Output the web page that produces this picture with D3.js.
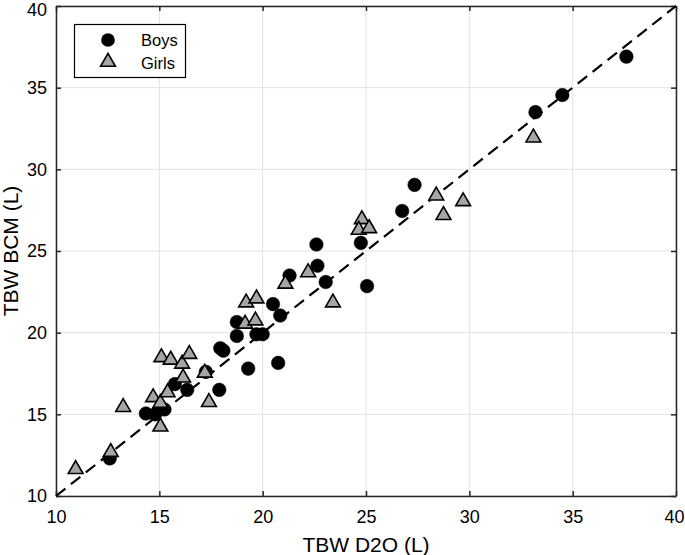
<!DOCTYPE html>
<html>
<head>
<meta charset="utf-8">
<script src="https://cdn.jsdelivr.net/npm/d3@7"></script>
<style>
  body { margin: 0; background: #fff; }
  svg { display: block; font-family: "Liberation Sans", Arial, Helvetica, sans-serif; }
</style>
</head>
<body>
<svg id="chart" width="685" height="555"></svg>
<script>
const xTicks = [10, 15, 20, 25, 30, 35, 40];
const yTicks = [10, 15, 20, 25, 30, 35, 40];
const xLabel = "TBW D2O (L)";
const yLabel = "TBW BCM (L)";
const seriesNames = ["Boys", "Girls"];

const boysX = [37.6, 34.5, 33.2, 27.35, 26.75, 22.6, 24.75, 22.65, 21.3, 23.05, 25.05, 20.5, 20.85, 18.75, 18.75, 19.7, 20.0, 17.95, 18.1, 19.3, 20.75, 17.25, 17.9, 15.75, 16.35, 14.35, 14.8, 15.25, 12.6];
const boysY = [36.9, 34.55, 33.5, 29.05, 27.45, 25.4, 25.5, 24.1, 23.5, 23.1, 22.85, 21.75, 21.05, 20.65, 19.8, 19.9, 19.9, 19.05, 18.9, 17.8, 18.15, 17.6, 16.5, 16.85, 16.5, 15.05, 15.0, 15.3, 12.3];

const girlsX = [33.1, 28.4, 29.7, 28.75, 24.8, 24.65, 25.15, 22.2, 21.1, 23.4, 19.2, 19.7, 19.15, 19.65, 15.1, 15.55, 16.1, 16.45, 16.15, 17.2, 14.7, 15.05, 15.4, 17.4, 13.25, 15.05, 12.65, 10.95];
const girlsY = [32.0, 28.45, 28.1, 27.25, 27.0, 26.35, 26.45, 23.75, 23.05, 21.9, 21.9, 22.15, 20.6, 20.8, 18.55, 18.4, 18.15, 18.75, 17.3, 17.6, 16.1, 15.75, 16.4, 15.8, 15.5, 14.3, 12.75, 11.7];

const identityLine = [[10, 10], [40, 40]];

const svg = d3.select("#chart");
const L = 56, R = 676, T = 6, B = 496;
const x = d3.scaleLinear().domain([10, 40]).range([L, R]);
const y = d3.scaleLinear().domain([10, 40]).range([B, T]);

// grid
const g = svg.append("g");
g.selectAll("line.gx").data(xTicks).join("line")
  .attr("x1", d => x(d)).attr("x2", d => x(d)).attr("y1", T).attr("y2", B)
  .attr("stroke", "#e3e3e3").attr("stroke-width", 1);
g.selectAll("line.gy").data(yTicks).join("line")
  .attr("y1", d => y(d)).attr("y2", d => y(d)).attr("x1", L).attr("x2", R)
  .attr("stroke", "#e3e3e3").attr("stroke-width", 1);

// axes
const axisColor = "#262626";
const xAxis = svg.append("g").attr("transform", `translate(0,${B})`)
  .call(d3.axisBottom(x).tickValues(xTicks).tickSizeInner(-5).tickSizeOuter(0).tickPadding(14).tickFormat(d3.format("d")));
const xAxisTop = svg.append("g").attr("transform", `translate(0,${T})`)
  .call(d3.axisTop(x).tickValues(xTicks).tickSizeInner(-5).tickSizeOuter(0).tickFormat(""));
const yAxis = svg.append("g").attr("transform", `translate(${L},0)`)
  .call(d3.axisLeft(y).tickValues(yTicks).tickSizeInner(-5).tickSizeOuter(0).tickPadding(9).tickFormat(d3.format("d")));
const yAxisR = svg.append("g").attr("transform", `translate(${R},0)`)
  .call(d3.axisRight(y).tickValues(yTicks).tickSizeInner(-5).tickSizeOuter(0).tickFormat(""));
[xAxis, xAxisTop, yAxis, yAxisR].forEach(a => {
  a.select(".domain").attr("stroke", axisColor).attr("stroke-width", 1.5);
  a.selectAll(".tick line").attr("stroke", axisColor).attr("stroke-width", 1.5);
  a.selectAll(".tick text").attr("fill", "#000").attr("font-size", 18)
   .attr("font-family", "Liberation Sans, Arial, sans-serif");
});
// keep edge labels inside the picture
yAxis.selectAll(".tick text").filter(d => d === 40).attr("dy", "0.55em");
xAxis.selectAll(".tick text").filter(d => d === 40).attr("text-anchor", "end").attr("dx", 8);

// identity line
svg.append("path")
  .attr("d", d3.line().x(d => x(d[0])).y(d => y(d[1]))(identityLine))
  .attr("stroke", "#000").attr("stroke-width", 2.2).attr("fill", "none")
  .attr("stroke-dasharray", "12,7");

// markers
const tri = d3.symbol().type(d3.symbolTriangle).size(95);
const boys = boysX.map((v, i) => [v, boysY[i]]);
const girls = girlsX.map((v, i) => [v, girlsY[i]]);

svg.append("g").selectAll("circle").data(boys).join("circle")
  .attr("cx", d => x(d[0])).attr("cy", d => y(d[1])).attr("r", 6.8)
  .attr("fill", "#000").attr("stroke", "#000").attr("stroke-width", 0.5);

svg.append("g").selectAll("path").data(girls).join("path")
  .attr("d", tri)
  .attr("transform", d => `translate(${x(d[0])},${y(d[1]) + 1})`)
  .attr("fill", "#a6a6a6").attr("stroke", "#000").attr("stroke-width", 1.6);

// legend
const lg = svg.append("g");
lg.append("rect").attr("x", 74.5).attr("y", 24.5).attr("width", 111).attr("height", 53)
  .attr("fill", "#fff").attr("stroke", "#000").attr("stroke-width", 1.2);
lg.append("circle").attr("cx", 108).attr("cy", 40).attr("r", 6.8).attr("fill", "#000");
lg.append("path").attr("d", tri).attr("transform", "translate(108,62)")
  .attr("fill", "#a6a6a6").attr("stroke", "#000").attr("stroke-width", 1.6);
lg.append("text").attr("x", 141).attr("y", 46).attr("font-size", 16.5).text(seriesNames[0]);
lg.append("text").attr("x", 141).attr("y", 69).attr("font-size", 16.5).text(seriesNames[1]);

// axis titles
svg.append("text").attr("x", 366).attr("y", 551.5).attr("text-anchor", "middle")
  .attr("font-size", 21).text(xLabel);
svg.append("text").attr("transform", `translate(17.5,${(T + B) / 2}) rotate(-90)`)
  .attr("text-anchor", "middle").attr("font-size", 21).text(yLabel);
</script>
</body>
</html>
